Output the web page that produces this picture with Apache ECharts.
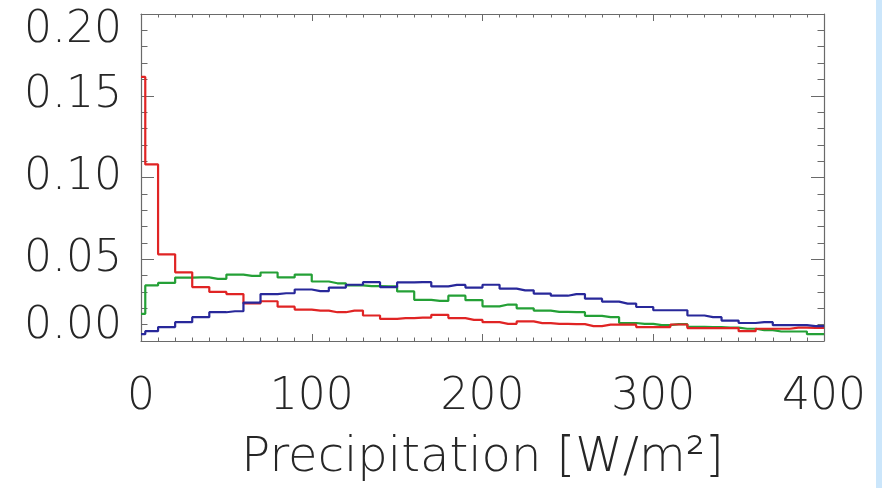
<!DOCTYPE html>
<html>
<head>
<meta charset="utf-8">
<script src="https://cdn.jsdelivr.net/npm/echarts@6/dist/echarts.min.js"></script>
<style>
  html, body { margin: 0; padding: 0; background: #ffffff; }
  #wrap { position: relative; width: 882px; height: 488px; }
  #chart { position: absolute; left: 0; top: 0; width: 876px; height: 488px; }
  #edge { position: absolute; left: 876px; top: 0; width: 6px; height: 488px; background: #cbe6fb; }
</style>
</head>
<body>
<div id="wrap">
  <div id="chart"></div>
  <div id="edge"></div>
</div>
<script>
// Histogram positions (W/m²): zero bin, then 10 W/m² bins centred at 5, 15, ... 395
const binCenters = [0, 5, 15, 25, 35, 45, 55, 65, 75, 85, 95, 105, 115, 125, 135, 145, 155, 165, 175, 185, 195,
  205, 215, 225, 235, 245, 255, 265, 275, 285, 295, 305, 315, 325, 335, 345, 355, 365, 375, 385, 395];
const xMax = 400;

const redFreq = [0.1615, 0.108, 0.053, 0.042, 0.033, 0.030, 0.0287, 0.023, 0.0243, 0.021, 0.0192,
  0.0186, 0.0176, 0.0186, 0.0156, 0.0135, 0.0140, 0.0143, 0.0160, 0.0140, 0.0129,
  0.0115, 0.0105, 0.0120, 0.0109, 0.0105, 0.0103, 0.0091, 0.0100, 0.0100, 0.0085,
  0.0085, 0.0101, 0.0079, 0.0079, 0.0079, 0.0060, 0.0075, 0.0075, 0.0082, 0.0080];

const greenFreq = [0.0166, 0.0340, 0.0355, 0.0388, 0.0389, 0.0380, 0.0406, 0.0398, 0.0419, 0.0389, 0.0406,
  0.0364, 0.0353, 0.0340, 0.0336, 0.0334, 0.0303, 0.0252, 0.0245, 0.0277, 0.0250,
  0.0212, 0.0223, 0.0200, 0.0186, 0.0178, 0.0176, 0.0154, 0.0146, 0.0110, 0.0105,
  0.0097, 0.0103, 0.0087, 0.0085, 0.0082, 0.0075, 0.0067, 0.0058, 0.0058, 0.0042];

const blueFreq = [0.0042, 0.0060, 0.0085, 0.0115, 0.0146, 0.0176, 0.0182, 0.0235, 0.0287, 0.0292, 0.0315,
  0.0305, 0.0327, 0.0344, 0.0360, 0.0330, 0.0358, 0.0360, 0.0334, 0.0343, 0.0327,
  0.0344, 0.0320, 0.0310, 0.0290, 0.0277, 0.0287, 0.0259, 0.0241, 0.0229, 0.0208,
  0.0188, 0.0188, 0.0156, 0.0146, 0.0125, 0.0110, 0.0115, 0.0097, 0.0097, 0.0091];

const xTickLabels = ['0', '100', '200', '300', '400'];
const yTickLabels = ['0.00', '0.05', '0.10', '0.15', '0.20'];
const xTitle = 'Precipitation [W/m²]';

const FONT = '"DejaVu Sans", sans-serif';
const TEXT = '#262626';
const AXIS = '#6a6a6a';

// Step outline: each bin drawn flat, last bin carried to the right edge
function steps(vals) {
  const pts = binCenters.map((x, i) => [x, vals[i]]);
  pts.push([xMax, vals[vals.length - 1]]);
  return pts;
}

const chart = echarts.init(document.getElementById('chart'), null, { renderer: 'canvas' });

const baseX = {
  type: 'value', min: 0, max: 400, interval: 100,
  axisLine: { show: true, onZero: false, lineStyle: { color: AXIS, width: 1.2 } },
  axisTick: { show: true, inside: true, length: 7, lineStyle: { color: AXIS, width: 1 } },
  minorTick: { show: true, splitNumber: 10, length: 3.5, lineStyle: { color: AXIS, width: 1 } },
  splitLine: { show: false }
};
const baseY = {
  type: 'value', min: 0, max: 0.2, interval: 0.05,
  axisLine: { show: true, onZero: false, lineStyle: { color: AXIS, width: 1.2 } },
  axisTick: { show: true, inside: true, length: 13, lineStyle: { color: AXIS, width: 1 } },
  minorTick: { show: true, splitNumber: 5, length: 6.5, lineStyle: { color: AXIS, width: 1 } },
  splitLine: { show: false }
};

const labelFont = { fontFamily: FONT, fontSize: 44, color: TEXT, fontWeight: 200 };

const option = {
  backgroundColor: '#ffffff',
  animation: false,
  grid: { left: 141, right: 876 - 824, top: 14, bottom: 144, containLabel: false },
  xAxis: [
    Object.assign({}, baseX, {
      position: 'bottom',
      axisLabel: Object.assign({ margin: 35, formatter: v => xTickLabels[Math.round(v / 100)] }, labelFont),
      name: xTitle, nameLocation: 'middle', nameGap: 94,
      nameTextStyle: { fontFamily: FONT, fontSize: 48, color: TEXT, fontWeight: 200 }
    }),
    Object.assign({}, baseX, { position: 'top', axisLabel: { show: false } })
  ],
  yAxis: [
    Object.assign({}, baseY, {
      position: 'left',
      axisLabel: Object.assign({
        margin: 19,
        formatter: v => {
          const s = yTickLabels[Math.round(v / 0.05)];
          if (v > 0.199) return '{top|' + s + '}';
          if (v < 0.001) return '{bot|' + s + '}';
          return s;
        },
        rich: {
          top: Object.assign({ padding: [34, 0, 0, 0] }, labelFont),
          bot: Object.assign({ padding: [0, 0, 28, 0] }, labelFont)
        }
      }, labelFont)
    }),
    Object.assign({}, baseY, { position: 'right', axisLabel: { show: false } })
  ],
  series: [
    { name: 'green', type: 'line', step: 'middle', symbol: 'none', data: steps(greenFreq),
      lineStyle: { color: '#24a036', width: 2.2 }, z: 2 },
    { name: 'red', type: 'line', step: 'middle', symbol: 'none', data: steps(redFreq),
      lineStyle: { color: '#e02424', width: 2.2 }, z: 3 },
    { name: 'blue', type: 'line', step: 'middle', symbol: 'none', data: steps(blueFreq),
      lineStyle: { color: '#28289a', width: 2.2 }, z: 4 }
  ]
};

chart.setOption(option);
</script>
</body>
</html>
